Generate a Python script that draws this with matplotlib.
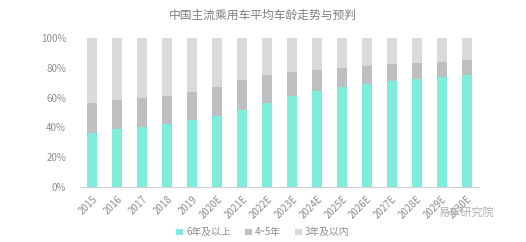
import numpy as np
import matplotlib.pyplot as plt

plt.rcParams['font.family'] = ['Noto Sans CJK SC', 'DejaVu Sans']

years = ["2015", "2016", "2017", "2018", "2019", "2020E", "2021E", "2022E",
         "2023E", "2024E", "2025E", "2026E", "2027E", "2028E", "2029E", "2030E"]
# share of cars by age (percent)
over6 = [36, 39, 40, 42, 45, 47.5, 51.5, 56.5, 61, 64.5, 67, 69, 71, 72.5, 74, 75.5]
mid45 = [20.5, 19.5, 19.5, 19, 18.5, 19.5, 20.5, 18.5, 16, 14, 13, 12.5, 11.5, 10.5, 10, 9.5]
under3 = [100 - a - b for a, b in zip(over6, mid45)]

c_teal = "#7deedb"
c_mid = "#bdbfc2"
c_light = "#d9dadd"
txt = "#8c8c8c"

fig = plt.figure(figsize=(5.26, 2.42), dpi=100)
ax = fig.add_axes([0.152, 0.227, 0.759, 0.616])

x = np.arange(len(years))
w = 0.4
ax.bar(x, over6, w, color=c_teal, label="6年及以上")
ax.bar(x, mid45, w, bottom=over6, color=c_mid, label="4~5年")
ax.bar(x, under3, w, bottom=np.array(over6) + np.array(mid45), color=c_light, label="3年及以内")

ax.set_xlim(-0.5, len(years) - 0.5)
ax.set_ylim(0, 100)
ax.set_yticks(np.arange(0, 101, 20))
ax.set_yticklabels([f"{v}%" for v in range(0, 101, 20)])
ax.set_xticks(x)
ax.set_xticklabels(years, rotation=45, ha="right", rotation_mode="anchor")
ax.tick_params(length=0, labelsize=7, colors=txt)
ax.tick_params(axis="y", pad=10)
ax.tick_params(axis="x", pad=5)
for s in ["top", "right", "left"]:
    ax.spines[s].set_visible(False)
ax.spines["bottom"].set_color("#d0d0d0")

fig.text(0.5, 0.935, "中国主流乘用车平均车龄走势与预判", ha="center", va="center",
         fontsize=8.5, color="#7f7f7f")

fig.legend(loc="center", bbox_to_anchor=(0.5, 0.04), ncol=3, frameon=False,
           fontsize=7, labelcolor=txt, handlelength=0.7, handleheight=0.7,
           handletextpad=0.3, columnspacing=1.5)

fig.text(0.94, 0.12, "易车研究院", ha="right", va="center", fontsize=8, color="#b0b0b0")

fig.savefig("out.png", dpi=100)
